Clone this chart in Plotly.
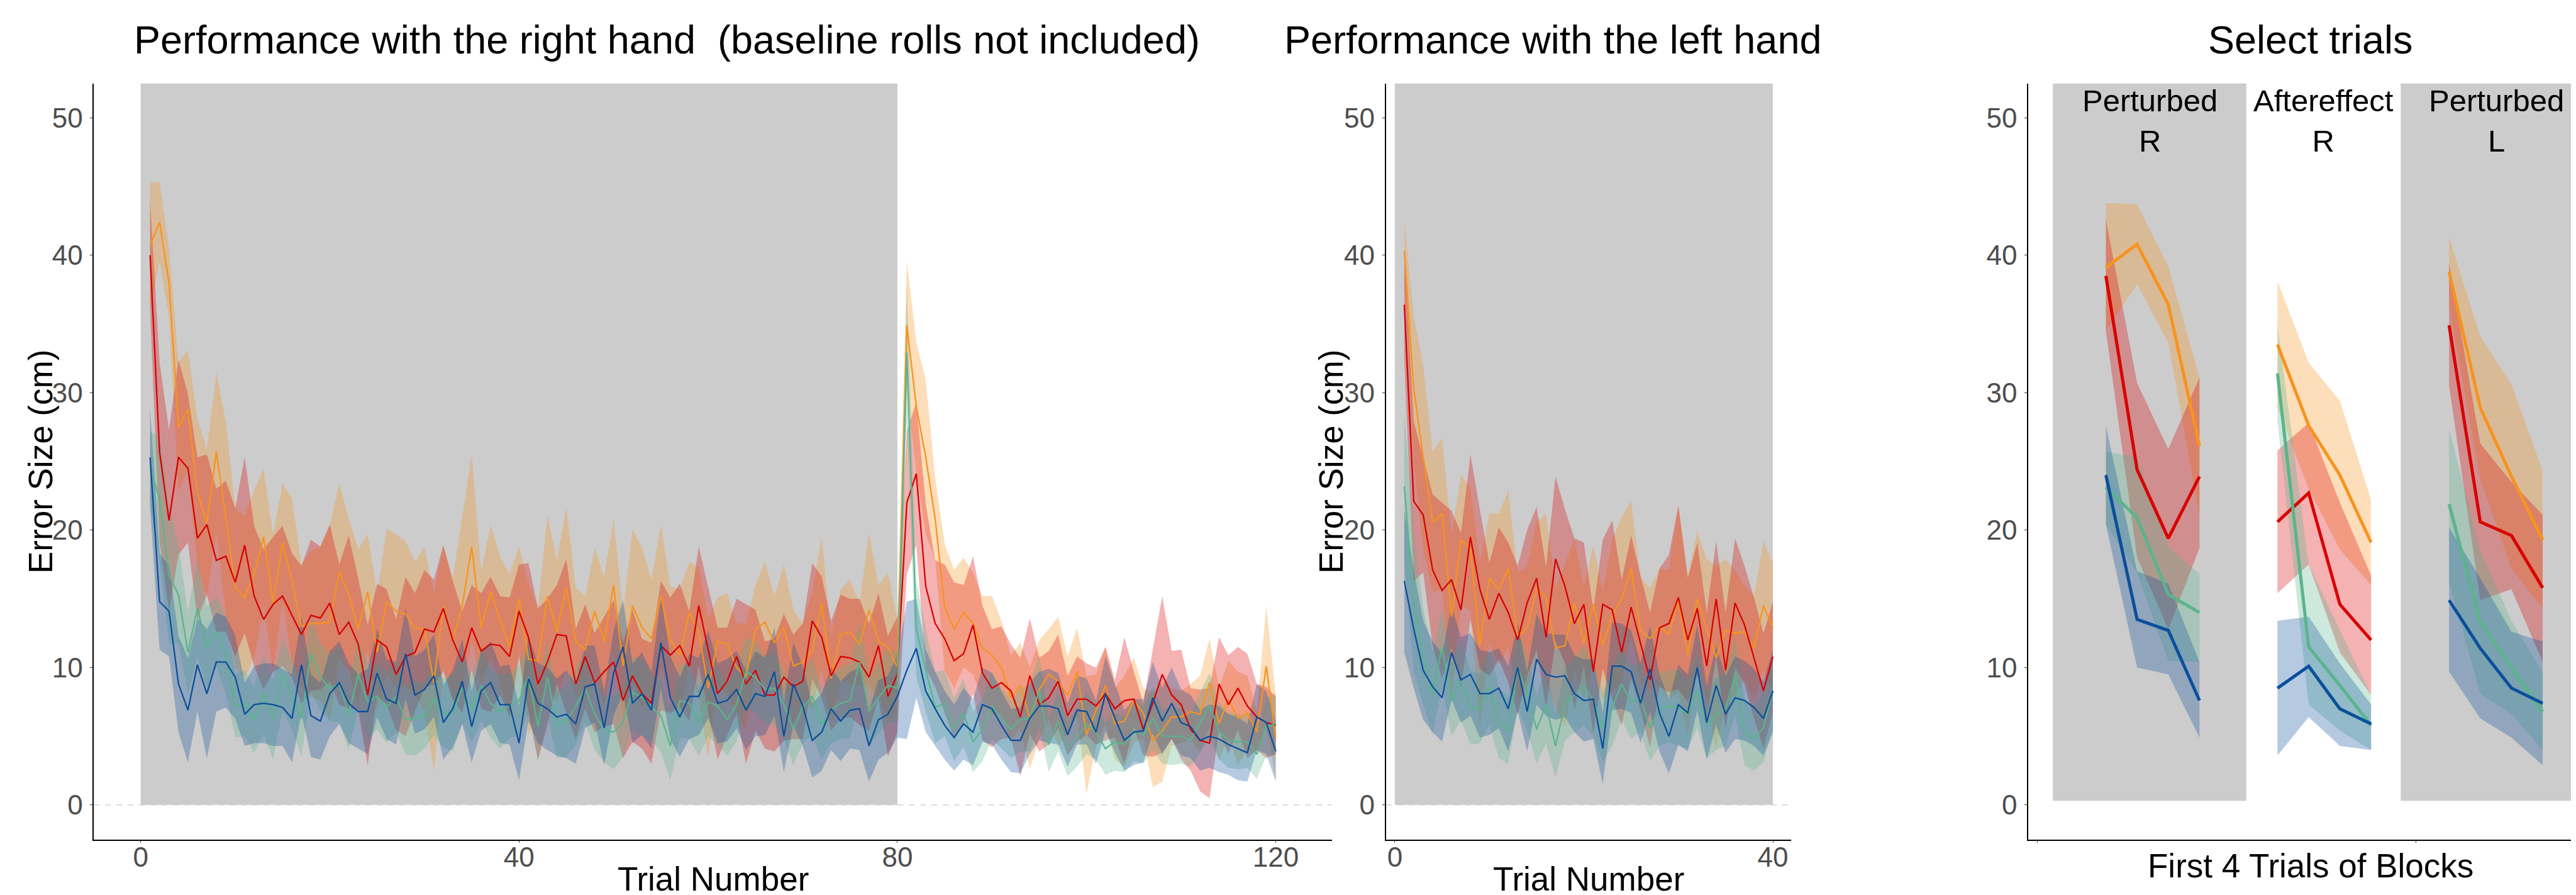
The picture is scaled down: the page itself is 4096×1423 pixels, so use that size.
import numpy as np
import plotly.graph_objects as go

W, H = 4096, 1423

# ---------------- data: right hand (trials 1..120) ----------------
trials_right = list(range(1, 121))
right_red_mean = [40.0, 25.7, 20.7, 25.3, 24.5, 19.4, 20.4, 17.8, 18.1, 16.2, 18.9, 15.2, 13.5, 14.6, 15.2, 13.8, 12.4, 13.8, 13.6, 14.7,
                  12.4, 13.3, 11.7, 8.0, 12.0, 11.5, 9.5, 10.8, 11.1, 12.8, 12.6, 14.3, 12.0, 10.4, 12.9, 11.2, 11.7, 11.6, 10.8, 14.1,
                  12.2, 8.8, 10.4, 12.4, 12.3, 8.8, 10.8, 8.9, 9.7, 10.4, 7.6, 9.4, 8.1, 7.4, 11.6, 10.9, 11.6, 10.1, 14.5, 11.3,
                  8.1, 9.0, 10.8, 8.8, 9.8, 8.0, 8.0, 9.3, 8.6, 9.0, 13.4, 12.2, 9.4, 10.8, 10.7, 10.4, 9.3, 11.6, 7.9, 9.5,
                  22.0, 24.1, 15.9, 13.2, 12.1, 10.5, 11.0, 13.1, 9.6, 8.5, 8.9, 8.3, 6.4, 9.4, 7.3, 7.8, 9.0, 6.5, 7.7, 7.7,
                  7.2, 8.1, 7.0, 7.6, 7.7, 5.5, 7.4, 9.5, 8.0, 7.3, 5.5, 4.7, 4.5, 8.8, 7.3, 8.5, 7.2, 6.4, 6.0, 5.8]
right_red_ci = [4.0, 6.5, 6.6, 7.1, 5.4, 5.9, 5.1, 5.2, 5.5, 5.4, 6.4, 5.1, 5.1, 4.9, 5.1, 4.5, 5.0, 5.5, 5.2, 5.7,
                5.1, 6.3, 4.8, 5.1, 4.1, 4.2, 4.0, 5.8, 4.3, 4.3, 3.8, 4.6, 4.3, 3.7, 3.1, 4.2, 4.9, 3.6, 4.3, 3.4,
                5.4, 5.5, 4.6, 3.6, 5.6, 4.0, 3.8, 3.6, 4.0, 4.5, 4.2, 4.8, 4.0, 4.4, 4.7, 4.2, 4.5, 4.0, 4.3, 4.6,
                4.8, 3.9, 4.2, 5.8, 4.4, 3.9, 4.1, 4.6, 3.8, 4.2, 4.2, 4.4, 4.0, 4.5, 4.3, 4.6, 3.9, 3.8, 4.4, 4.2,
                5.2, 5.2, 6.0, 4.6, 5.4, 5.7, 5.0, 5.0, 4.9, 4.3, 4.1, 3.4, 4.3, 4.2, 3.4, 3.4, 3.4, 2.9, 3.1, 2.6,
                2.8, 3.4, 2.1, 4.6, 2.0, 1.9, 3.9, 5.7, 3.2, 4.0, 3.0, 3.7, 4.0, 3.4, 3.6, 3.0, 3.8, 2.4, 2.6, 2.1]
right_orange_mean = [40.7, 42.4, 38.0, 27.5, 28.8, 22.7, 20.5, 25.7, 20.9, 15.8, 15.1, 16.8, 19.5, 14.7, 19.1, 16.3, 13.0, 13.2, 13.2, 13.3,
                     17.0, 15.3, 12.8, 15.5, 11.1, 14.8, 14.1, 13.9, 12.9, 12.8, 8.9, 14.5, 12.0, 14.5, 18.8, 12.9, 15.5, 13.5, 11.5, 15.0,
                     10.6, 10.5, 15.2, 12.6, 15.8, 11.9, 11.3, 14.1, 11.9, 16.0, 10.1, 14.5, 12.9, 12.1, 15.2, 12.0, 10.9, 14.0, 12.6, 8.5,
                     11.9, 11.7, 10.0, 9.3, 12.8, 13.3, 11.8, 12.9, 10.1, 10.4, 11.2, 14.7, 9.2, 12.4, 12.6, 11.7, 14.2, 11.9, 11.5, 10.0,
                     34.9, 29.0, 25.3, 20.8, 14.4, 12.8, 14.0, 13.2, 11.4, 10.9, 10.0, 7.8, 8.7, 6.3, 8.4, 9.5, 9.0, 8.0, 9.7, 5.1,
                     6.9, 8.7, 5.9, 6.1, 7.6, 6.7, 4.7, 5.4, 6.4, 6.4, 6.8, 6.6, 8.9, 5.9, 7.7, 6.3, 6.7, 5.3, 10.1, 4.9]
right_orange_ci = [4.6, 2.9, 2.5, 4.7, 4.3, 5.4, 5.4, 5.8, 7.0, 5.8, 5.9, 6.1, 5.0, 5.0, 4.3, 6.0, 4.5, 5.3, 5.6, 7.1,
                   6.4, 5.5, 5.8, 4.2, 4.3, 5.3, 5.6, 5.3, 4.8, 6.0, 6.5, 4.4, 4.5, 6.5, 6.7, 4.1, 4.9, 4.6, 5.3, 3.8,
                   5.5, 3.8, 5.9, 5.2, 5.9, 3.9, 3.9, 4.6, 4.7, 4.8, 4.0, 5.6, 5.8, 4.3, 5.2, 3.9, 4.8, 3.7, 4.7, 5.1,
                   3.2, 3.7, 3.2, 3.9, 3.2, 4.4, 3.4, 4.6, 4.1, 2.8, 4.2, 4.8, 3.2, 3.3, 3.8, 3.0, 5.6, 4.1, 5.4, 3.4,
                   4.7, 4.7, 5.6, 3.0, 4.6, 4.3, 4.0, 3.7, 3.8, 4.3, 3.4, 3.1, 3.1, 3.7, 3.6, 3.3, 4.7, 2.8, 3.2, 4.3,
                   2.6, 2.8, 2.6, 3.3, 3.1, 1.8, 3.4, 3.7, 2.1, 1.9, 2.0, 2.8, 3.2, 2.6, 2.8, 3.4, 2.7, 1.5, 4.4, 3.1]
right_green_mean = [24.5, 22.3, 16.7, 15.3, 11.1, 14.3, 11.5, 12.6, 10.9, 7.2, 7.4, 6.2, 8.1, 6.2, 9.5, 8.0, 6.3, 11.0, 9.3, 8.5,
                    8.8, 6.6, 9.5, 7.5, 7.9, 7.1, 7.9, 6.2, 6.3, 6.5, 7.7, 6.7, 6.7, 8.5, 7.0, 8.7, 7.4, 6.8, 7.2, 7.6,
                    9.3, 5.7, 9.3, 5.8, 6.1, 7.2, 8.5, 6.6, 5.5, 5.3, 6.0, 8.2, 7.8, 7.1, 6.5, 4.3, 7.6, 7.4, 6.0, 7.5,
                    7.2, 6.2, 7.3, 9.7, 9.3, 8.4, 8.5, 7.3, 5.5, 7.1, 7.9, 5.8, 6.9, 7.4, 7.6, 10.4, 6.8, 7.8, 8.7, 8.5,
                    32.9, 12.8, 9.8, 7.1, 7.4, 5.5, 6.7, 4.6, 5.5, 7.2, 6.3, 5.5, 6.2, 6.3, 8.3, 4.4, 6.1, 4.1, 4.9, 5.9,
                    5.3, 4.1, 4.6, 4.4, 5.4, 5.1, 6.3, 5.0, 5.0, 5.0, 4.7, 6.0, 7.2, 5.4, 4.7, 4.6, 4.6, 3.7, 5.7, 5.9]
right_green_ci = [2.7, 4.5, 5.0, 3.5, 3.0, 3.5, 3.0, 2.5, 2.8, 2.3, 2.4, 2.4, 2.9, 2.9, 2.6, 2.5, 2.7, 2.8, 2.5, 2.4,
                  2.8, 2.6, 2.5, 2.7, 2.4, 2.6, 2.6, 2.5, 2.7, 2.4, 2.6, 2.5, 2.8, 2.6, 2.4, 2.6, 2.5, 2.7, 2.3, 2.6,
                  2.6, 2.5, 2.7, 2.4, 2.6, 2.8, 2.5, 2.6, 2.4, 2.7, 2.5, 2.6, 2.8, 2.4, 2.6, 2.5, 2.7, 2.6, 2.4, 2.5,
                  2.8, 2.6, 2.7, 2.5, 2.6, 2.4, 2.7, 2.5, 2.6, 2.6, 2.8, 2.5, 2.4, 2.6, 2.7, 2.9, 2.5, 2.6, 2.7, 2.5,
                  5.0, 3.5, 3.0, 2.6, 2.4, 2.3, 2.5, 2.2, 2.3, 2.4, 2.2, 2.1, 2.3, 2.4, 2.6, 2.0, 2.2, 2.0, 2.1, 2.2,
                  2.0, 1.9, 2.1, 2.0, 2.2, 2.1, 2.3, 2.0, 2.1, 2.0, 1.9, 2.2, 2.4, 2.1, 2.0, 2.0, 1.9, 1.8, 2.1, 2.2]
right_blue_mean = [25.3, 14.8, 14.1, 8.8, 6.9, 10.2, 8.1, 10.4, 10.4, 9.3, 6.6, 7.3, 7.4, 7.3, 7.1, 6.3, 10.2, 6.5, 6.1, 8.1,
                   8.9, 7.4, 6.8, 6.8, 9.6, 7.7, 7.4, 11.0, 8.0, 8.4, 9.4, 6.0, 7.0, 9.0, 5.7, 8.3, 8.9, 7.3, 7.3, 4.5,
                   9.2, 7.4, 7.0, 6.4, 6.6, 5.9, 8.6, 8.8, 5.6, 9.6, 11.5, 7.4, 8.1, 6.9, 11.8, 7.8, 6.4, 7.9, 7.9, 9.5,
                   7.4, 7.6, 8.4, 6.9, 8.1, 7.9, 9.7, 5.0, 8.8, 7.2, 4.7, 5.3, 7.0, 6.1, 6.9, 7.0, 4.3, 6.2, 6.6, 7.9,
                   9.8, 11.4, 8.3, 7.0, 5.8, 4.9, 5.9, 5.3, 7.3, 7.0, 5.8, 4.7, 4.7, 6.3, 7.2, 7.2, 7.0, 5.1, 6.9, 6.8,
                   5.3, 8.1, 6.3, 4.7, 5.3, 5.4, 7.8, 6.1, 7.4, 6.0, 5.7, 4.7, 5.0, 4.8, 4.4, 4.1, 3.8, 6.4, 6.0, 3.9]
right_blue_ci = [3.6, 3.5, 3.3, 3.5, 3.8, 3.4, 4.7, 3.6, 3.3, 3.0, 2.3, 2.8, 2.9, 3.0, 2.8, 3.2, 3.5, 3.0, 2.8, 3.1,
                 3.0, 2.9, 2.7, 3.1, 3.2, 2.9, 3.0, 3.3, 2.8, 2.9, 3.0, 2.7, 2.8, 3.1, 2.6, 2.9, 3.0, 2.8, 2.9, 2.7,
                 3.1, 2.9, 3.0, 2.8, 3.2, 2.9, 3.0, 2.8, 2.7, 3.1, 3.4, 2.9, 3.0, 2.8, 3.3, 3.0, 2.9, 3.1, 2.8, 3.2,
                 2.9, 3.0, 2.8, 2.9, 3.1, 2.8, 3.2, 2.6, 3.0, 2.9, 2.7, 2.8, 3.0, 2.9, 2.8, 3.0, 2.6, 2.9, 2.8, 3.0,
                 5.0, 3.6, 3.0, 2.7, 2.5, 2.4, 2.6, 2.4, 2.7, 2.6, 2.5, 2.3, 2.4, 2.6, 2.5, 2.7, 2.6, 2.3, 2.5, 2.4,
                 2.3, 2.7, 2.5, 2.2, 2.4, 2.3, 2.6, 2.4, 2.6, 2.4, 2.3, 2.2, 2.3, 2.4, 2.2, 2.3, 2.1, 2.4, 2.3, 2.2]

# ---------------- data: left hand (trials 1..40) ----------------
trials_left = list(range(1, 41))
left_red_mean = [36.4, 22.1, 21.1, 17.1, 15.6, 16.4, 14.2, 19.5, 15.7, 13.5, 15.4, 14.0, 12.0, 14.7, 16.5, 12.2, 17.9, 15.9, 13.2, 14.6,
                 9.7, 14.6, 14.2, 11.1, 14.4, 11.8, 9.1, 12.9, 13.2, 15.1, 12.0, 14.3, 10.1, 15.0, 9.8, 14.7, 13.1, 10.7, 8.3, 10.8]
left_red_ci = [4.0, 5.8, 4.2, 5.5, 6.4, 5.0, 5.6, 6.0, 5.8, 4.1, 4.8, 5.1, 5.4, 5.3, 5.2, 5.1, 6.0, 5.6, 6.2, 4.5,
               4.5, 4.7, 6.5, 5.3, 5.2, 4.9, 4.9, 4.3, 5.0, 6.7, 4.5, 4.8, 3.9, 4.2, 4.2, 4.7, 4.3, 4.4, 4.2, 4.0]
left_orange_mean = [40.3, 30.3, 25.3, 20.6, 21.2, 13.7, 19.3, 18.6, 11.6, 16.5, 15.7, 17.2, 12.3, 12.9, 15.7, 15.1, 11.4, 11.6, 14.7, 11.8,
                    14.6, 11.6, 13.8, 15.0, 17.2, 12.7, 12.1, 13.0, 12.4, 15.0, 10.9, 15.0, 12.8, 10.7, 12.7, 12.5, 12.6, 11.4, 14.5, 12.9]
left_orange_ci = [2.2, 5.3, 6.7, 5.1, 5.5, 5.9, 4.7, 4.5, 6.0, 4.7, 5.5, 5.7, 4.6, 4.5, 4.9, 6.1, 4.4, 5.9, 4.7, 4.1,
                  4.3, 4.0, 5.5, 6.0, 4.9, 3.8, 3.7, 4.2, 4.7, 6.8, 5.8, 4.9, 5.1, 6.7, 5.2, 4.6, 3.4, 3.8, 4.7, 4.7]
left_green_mean = [23.2, 14.8, 10.8, 8.1, 11.5, 7.6, 9.1, 7.1, 7.0, 8.6, 6.0, 5.4, 10.0, 8.1, 5.5, 7.3, 4.3, 7.3, 8.0, 8.7,
                   7.6, 5.6, 7.1, 8.8, 7.5, 7.8, 5.6, 7.0, 7.2, 7.1, 6.6, 8.3, 5.8, 6.6, 7.0, 9.4, 5.3, 4.8, 5.6, 8.3]
left_green_ci = [5.4, 5.0, 3.5, 3.0, 2.8, 2.6, 2.9, 2.7, 2.5, 2.8, 2.6, 2.4, 2.9, 2.7, 2.5, 2.8, 2.3, 2.6, 2.7, 2.9,
                 2.6, 2.5, 2.8, 2.6, 2.7, 2.5, 2.4, 2.7, 2.6, 2.8, 2.5, 2.7, 2.4, 2.6, 2.7, 2.9, 2.4, 2.3, 2.5, 2.7]
left_blue_mean = [16.3, 12.8, 9.8, 8.6, 7.8, 11.1, 9.1, 9.5, 8.1, 8.1, 8.5, 7.0, 10.0, 6.8, 10.6, 9.5, 9.3, 9.4, 8.1, 7.6,
                  7.7, 4.1, 10.1, 10.1, 9.7, 7.4, 9.9, 6.7, 5.0, 7.3, 6.7, 10.0, 6.0, 8.7, 6.6, 7.8, 7.6, 7.1, 6.3, 8.3]
left_blue_ci = [5.2, 4.3, 3.6, 3.3, 3.2, 3.4, 3.1, 3.0, 3.2, 3.0, 2.9, 3.1, 3.2, 2.9, 3.3, 3.0, 3.1, 3.0, 2.8, 3.0,
                2.9, 2.6, 3.2, 3.1, 3.0, 2.9, 3.1, 2.8, 2.7, 2.9, 2.8, 3.1, 2.7, 2.9, 2.8, 3.0, 2.9, 2.8, 2.7, 3.0]

# ---------------- data: select trials (first 4 trials of 3 blocks) ----------------
block_names = ["Perturbed<br>R", "Aftereffect<br>R", "Perturbed<br>L"]
block_label_x = [2.42, 7.97, 13.51]
block_x = [[1, 2, 3, 4], [6.5, 7.5, 8.5, 9.5], [12, 13, 14, 15]]
block_rects = [(-0.7, 5.5), (10.45, 16.3)]

sel_orange_mean = [[39.1, 40.8, 36.4, 26.1], [33.5, 27.6, 24.0, 19.1], [38.8, 28.9, 23.9, 19.3]]
sel_orange_lo = [[34.5, 37.9, 33.6, 21.1], [28.9, 23.0, 18.6, 16.0], [36.3, 23.7, 17.2, 14.3]]
sel_orange_hi = [[43.8, 43.7, 39.2, 31.1], [38.1, 32.2, 29.4, 22.2], [41.3, 34.1, 30.6, 24.3]]
sel_red_mean = [[38.5, 24.4, 19.4, 23.9], [20.6, 22.7, 14.6, 12.0], [34.9, 20.6, 19.6, 15.8]]
sel_red_lo = [[34.5, 18.0, 12.8, 18.7], [15.4, 17.5, 11.1, 8.0], [30.5, 14.9, 15.7, 10.4]]
sel_red_hi = [[42.6, 30.7, 25.9, 31.1], [25.8, 27.8, 22.0, 16.7], [39.4, 26.3, 23.5, 21.1]]
sel_green_mean = [[23.1, 20.9, 15.3, 14.0], [31.4, 11.5, 8.7, 5.8], [21.9, 13.3, 10.0, 6.8]]
sel_green_lo = [[20.4, 16.9, 10.5, 10.4], [27.9, 7.3, 5.4, 4.0], [16.2, 8.1, 6.6, 4.0]]
sel_green_hi = [[25.7, 25.3, 18.8, 16.8], [34.9, 17.5, 12.7, 8.0], [27.3, 18.5, 13.4, 9.6]]
sel_blue_mean = [[24.0, 13.5, 12.7, 7.6], [8.5, 10.1, 7.0, 5.9], [14.9, 11.4, 8.5, 7.4]]
sel_blue_lo = [[20.4, 10.0, 9.5, 4.9], [3.6, 6.4, 4.3, 4.0], [9.7, 6.3, 4.9, 2.9]]
sel_blue_hi = [[27.6, 17.0, 16.1, 10.4], [13.4, 13.7, 10.3, 7.3], [20.2, 16.5, 12.6, 11.9]]

y_ticks = [0, 10, 20, 30, 40, 50]

# ---------------- style ----------------
COL = {"red": (217, 0, 0), "orange": (247, 147, 30), "green": (90, 180, 140), "blue": (11, 79, 156)}
ALPHA = 0.3
FONT = "Liberation Sans, Arial, Helvetica, sans-serif"
TICK_COL = "#4D4D4D"


def rgb(c):
    return "rgb(%d,%d,%d)" % c


def rgba(c, a):
    return "rgba(%d,%d,%d,%.2f)" % (c[0], c[1], c[2], a)


fig = go.Figure()


def add_ribbon(x, lo, hi, cname, xa, ya):
    x = list(x)
    fig.add_trace(go.Scatter(x=x + x[::-1], y=list(hi) + list(lo)[::-1], fill="toself",
                             fillcolor=rgba(COL[cname], ALPHA), line=dict(width=0), mode="lines",
                             hoverinfo="skip", showlegend=False, xaxis=xa, yaxis=ya))


def add_line(x, y, cname, xa, ya, w):
    fig.add_trace(go.Scatter(x=list(x), y=list(y), mode="lines", line=dict(color=rgb(COL[cname]), width=w),
                             hoverinfo="skip", showlegend=False, xaxis=xa, yaxis=ya))


series_right = [("orange", right_orange_mean, right_orange_ci), ("red", right_red_mean, right_red_ci),
                ("green", right_green_mean, right_green_ci), ("blue", right_blue_mean, right_blue_ci)]
series_left = [("orange", left_orange_mean, left_orange_ci), ("red", left_red_mean, left_red_ci),
               ("green", left_green_mean, left_green_ci), ("blue", left_blue_mean, left_blue_ci)]

for trials, series, xa, ya in [(trials_right, series_right, "x", "y"), (trials_left, series_left, "x2", "y2")]:
    for cname, m, ci in series:
        m = np.array(m)
        ci = np.array(ci)
        add_ribbon(trials, m - ci, m + ci, cname, xa, ya)
    for cname, m, ci in series:
        add_line(trials, m, cname, xa, ya, 2.3)

sel_series = [("orange", sel_orange_mean, sel_orange_lo, sel_orange_hi),
              ("red", sel_red_mean, sel_red_lo, sel_red_hi),
              ("green", sel_green_mean, sel_green_lo, sel_green_hi),
              ("blue", sel_blue_mean, sel_blue_lo, sel_blue_hi)]
for b in range(3):
    for cname, m, lo, hi in sel_series:
        add_ribbon(block_x[b], lo[b], hi[b], cname, "x3", "y3")
for b in range(3):
    for cname, m, lo, hi in sel_series:
        add_line(block_x[b], m[b], cname, "x3", "y3", 5.0)

# ---------------- layout ----------------
def px_x(p):
    return p / W


def px_y(p):
    return 1 - p / H


ydom = [px_y(1326.5), px_y(124.6)]
yr = [-2.5, 52.5]

axis_common = dict(showline=True, linecolor="black", linewidth=1.5, ticks="outside", ticklen=4, tickwidth=1.3,
                   tickcolor="#333333", showgrid=False, zeroline=False,
                   tickfont=dict(family=FONT, size=44, color=TICK_COL))

layout = dict(width=W, height=H, margin=dict(l=0, r=0, t=0, b=0), paper_bgcolor="white", plot_bgcolor="white",
              showlegend=False, font=dict(family=FONT))
layout["xaxis"] = dict(axis_common, domain=[px_x(141.2), px_x(2110.0)], range=[-4.95, 125.95],
                       tickvals=[0, 40, 80, 120], anchor="y", ticklabelstandoff=-15)
layout["yaxis"] = dict(axis_common, domain=ydom, range=yr, tickvals=y_ticks, anchor="x", ticklabelstandoff=3)
layout["xaxis2"] = dict(axis_common, domain=[px_x(2195.6), px_x(2840.3)], range=[-0.95, 41.95],
                        tickvals=[0, 40], anchor="y2", ticklabelstandoff=-15)
layout["yaxis2"] = dict(axis_common, domain=ydom, range=yr, tickvals=y_ticks, anchor="x2", ticklabelstandoff=3)
layout["xaxis3"] = dict(axis_common, domain=[px_x(3217.0), 1.0], range=[-1.49, 16.23],
                        tickvals=[-1.2, 10.93], ticktext=["", ""], anchor="y3")
layout["yaxis3"] = dict(axis_common, domain=ydom, range=yr, tickvals=y_ticks, anchor="x3", ticklabelstandoff=3)
fig.update_layout(**layout)

shapes = []
# grey background blocks
shapes.append(dict(type="rect", xref="x", yref="y", x0=0, x1=80, y0=0, y1=52.5, fillcolor="#CCCCCC",
                   line=dict(width=0), layer="below"))
shapes.append(dict(type="rect", xref="x2", yref="y2", x0=0, x1=40, y0=0, y1=52.5, fillcolor="#CCCCCC",
                   line=dict(width=0), layer="below"))
for x0, x1 in block_rects:
    shapes.append(dict(type="rect", xref="x3", yref="y3", x0=x0, x1=x1, y0=0.3, y1=52.5, fillcolor="#CCCCCC",
                       line=dict(width=0), layer="below"))
# dashed zero lines
shapes.append(dict(type="line", xref="x", yref="y", x0=-4.95, x1=125.95, y0=0, y1=0,
                   line=dict(color="#CFCFCF", width=1.5, dash="dash"), layer="below"))
shapes.append(dict(type="line", xref="x2", yref="y2", x0=-0.95, x1=41.95, y0=0, y1=0,
                   line=dict(color="#CFCFCF", width=1.5, dash="dash"), layer="below"))
fig.update_layout(shapes=shapes)

ann = []
TITLE_SIZE = 63
AX_SIZE = 53
titles = [("Performance with the right hand  (baseline rolls not included)", 1052),
          ("Performance with the left hand", 2461), ("Select trials", 3666)]
for txt, cx in titles:
    ann.append(dict(text=txt, x=px_x(cx), y=px_y(55), xref="paper", yref="paper", xanchor="center",
                    yanchor="middle", showarrow=False, font=dict(family=FONT, size=TITLE_SIZE, color="black")))
for cx in [56, 2108]:
    ann.append(dict(text="Error Size (cm)", x=px_x(cx), y=px_y(726), xref="paper", yref="paper", xanchor="center",
                    yanchor="middle", textangle=-90, showarrow=False,
                    font=dict(family=FONT, size=AX_SIZE, color="black")))
for txt, cx, cy in [("Trial Number", 1125.6, 1389), ("Trial Number", 2518, 1389),
                    ("First 4 Trials of Blocks", 3666, 1368)]:
    ann.append(dict(text=txt, x=px_x(cx), y=px_y(cy), xref="paper", yref="paper", xanchor="center",
                    yanchor="middle", showarrow=False, font=dict(family=FONT, size=AX_SIZE, color="black")))
for name, bx in zip(block_names, block_label_x):
    ann.append(dict(text=name, x=bx, y=49.8, xref="x3", yref="y3", xanchor="center", yanchor="middle",
                    showarrow=False, font=dict(family=FONT, size=49, color="black")))
fig.update_layout(annotations=ann)

fig.write_html("out.html")
